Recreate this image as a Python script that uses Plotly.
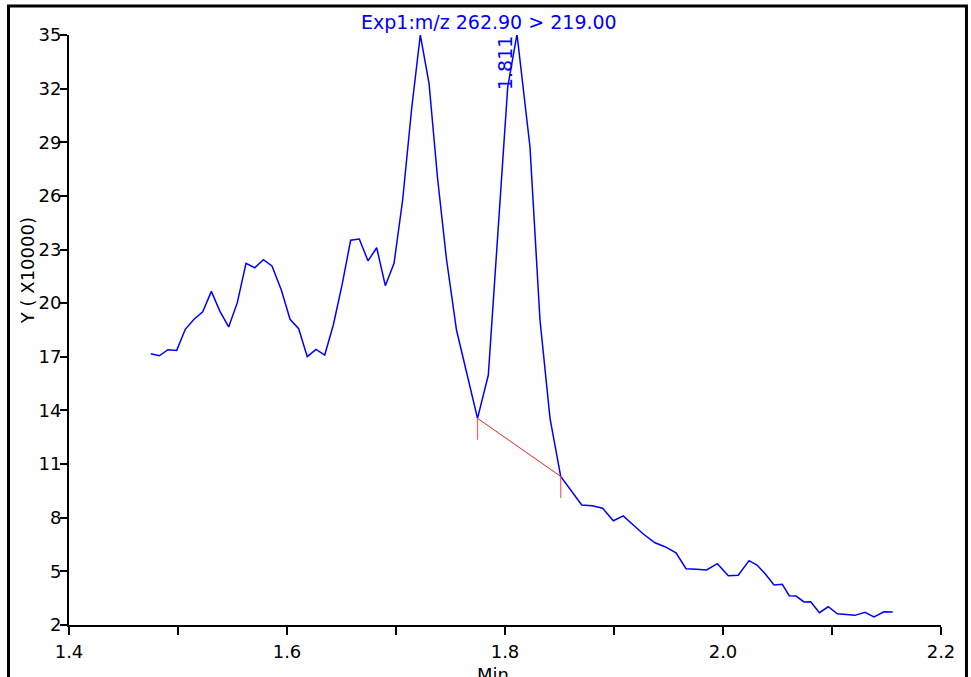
import plotly.graph_objects as go

# Retention time (min)
times = [1.4750, 1.4828, 1.4908, 1.4988, 1.5067, 1.5147, 1.5227, 1.5306, 1.5385, 1.5465,
         1.5544, 1.5624, 1.5704, 1.5783, 1.5862, 1.5948, 1.6028, 1.6107, 1.6186, 1.6266,
         1.6346, 1.6425, 1.6505, 1.6584, 1.6663, 1.6743, 1.6823, 1.6902, 1.6982, 1.7061,
         1.7144, 1.7223, 1.7303, 1.7381, 1.7463, 1.7555, 1.7651, 1.7748, 1.7847, 1.7936,
         1.8025, 1.8110, 1.8229, 1.8321, 1.8413, 1.8511, 1.8606, 1.8704, 1.8801, 1.8896,
         1.8994, 1.9085, 1.9177, 1.9269, 1.9376, 1.9468, 1.9569, 1.9661, 1.9755, 1.9850,
         1.9948, 2.0049, 2.0140, 2.0239, 2.0315, 2.0394, 2.0468, 2.0544, 2.0608, 2.0670,
         2.0743, 2.0805, 2.0884, 2.0966, 2.1049, 2.1135, 2.1211, 2.1303, 2.1385, 2.1477,
         2.1557]
# Intensity (x10000)
intensity = [17.17, 17.06, 17.40, 17.36, 18.54, 19.10, 19.52, 20.66, 19.54, 18.67,
             20.03, 22.23, 21.98, 22.43, 22.08, 20.74, 19.10, 18.57, 17.01, 17.42,
             17.10, 18.78, 21.02, 23.52, 23.59, 22.37, 23.10, 20.98, 22.23, 25.77,
             30.90, 35.00, 32.30, 27.00, 22.47, 18.50, 16.04, 13.56, 15.98, 23.81,
             32.09, 35.05, 28.75, 19.06, 13.56, 10.31, 9.49, 8.71, 8.67, 8.53,
             7.83, 8.10, 7.59, 7.09, 6.60, 6.38, 6.04, 5.15, 5.12, 5.08,
             5.43, 4.76, 4.78, 5.60, 5.34, 4.81, 4.24, 4.28, 3.64, 3.62,
             3.29, 3.30, 2.69, 3.02, 2.63, 2.56, 2.54, 2.71, 2.45, 2.74,
             2.73]

x_tickvals = [1.4, 1.5, 1.6, 1.7, 1.8, 1.9, 2.0, 2.1, 2.2]
x_ticktext = ["1.4", "", "1.6", "", "1.8", "", "2.0", "", "2.2"]
y_tickvals = [2, 5, 8, 11, 14, 17, 20, 23, 26, 29, 32, 35]
y_ticktext = [str(v) for v in y_tickvals]

title_text = "Exp1:m/z 262.90 > 219.00"
peak_label = "1.811"
baseline_start_idx = 37
baseline_end_idx = 45
baseline_drop = 1.2

FONT = "DejaVu Sans"
BLUE = "#0000ff"

fig = go.Figure()
fig.add_trace(go.Scatter(x=times, y=intensity, mode="lines",
                         line=dict(color=BLUE, width=1.5), showlegend=False,
                         hoverinfo="skip"))
# integration baseline
bx = [times[baseline_start_idx], times[baseline_end_idx]]
by = [intensity[baseline_start_idx], intensity[baseline_end_idx]]
fig.add_trace(go.Scatter(x=bx, y=by, mode="lines", line=dict(color="#ff2020", width=1),
                         showlegend=False, hoverinfo="skip"))
for xi, yi in zip(bx, by):
    fig.add_trace(go.Scatter(x=[xi, xi], y=[yi, yi - baseline_drop], mode="lines",
                             line=dict(color="#ff6060", width=1.2), showlegend=False,
                             hoverinfo="skip"))

# peak apex for label
peak_idx = max(range(baseline_start_idx, baseline_end_idx + 1), key=lambda i: intensity[i])

fig.update_layout(
    width=971, height=677,
    margin=dict(l=69, r=30, t=35, b=52),
    paper_bgcolor="white", plot_bgcolor="white",
    font=dict(family=FONT, size=18, color="black"),
    xaxis=dict(range=[1.4, 2.2], tickvals=x_tickvals, ticktext=x_ticktext,
               showline=True, linecolor="black", linewidth=2, ticks="outside",
               ticklen=8, tickwidth=2, tickcolor="black", showgrid=False,
               zeroline=False, ticklabelstandoff=1,
               tickfont=dict(family=FONT, size=18, color="black")),
    yaxis=dict(range=[2, 35], tickvals=y_tickvals, ticktext=y_ticktext,
               showline=True, linecolor="black", linewidth=2, ticks="outside",
               ticklen=7, tickwidth=2, tickcolor="black", showgrid=False,
               zeroline=False, ticklabelstandoff=-5,
               tickfont=dict(family=FONT, size=18, color="black")),
    shapes=[dict(type="rect", xref="paper", yref="paper",
                 x0=-0.0694, x1=1.0292, y0=-0.25, y1=1.0492,
                 line=dict(color="black", width=3), fillcolor="rgba(0,0,0,0)",
                 layer="above")],
    annotations=[
        dict(text=title_text, xref="paper", yref="paper", x=0.4822, y=1.0220,
             xanchor="center", yanchor="middle", showarrow=False,
             font=dict(family=FONT, size=19, color=BLUE)),
        dict(text=peak_label, xref="x", yref="paper", x=times[peak_idx], y=0.9525,
             xshift=-12, xanchor="center", yanchor="middle", textangle=-90,
             showarrow=False, font=dict(family=FONT, size=19, color=BLUE)),
        dict(text="Y ( X10000)", xref="paper", yref="paper", x=-0.048, y=0.6,
             xanchor="center", yanchor="middle", textangle=-90, showarrow=False,
             font=dict(family=FONT, size=18, color="black")),
        dict(text="Min", xref="paper", yref="paper", x=0.486, y=-0.062,
             xanchor="center", yanchor="top", showarrow=False,
             font=dict(family=FONT, size=18, color="black")),
    ],
)

fig.write_html("out.html", config={"displayModeBar": False},
               post_script="document.body.style.margin='0px';")
